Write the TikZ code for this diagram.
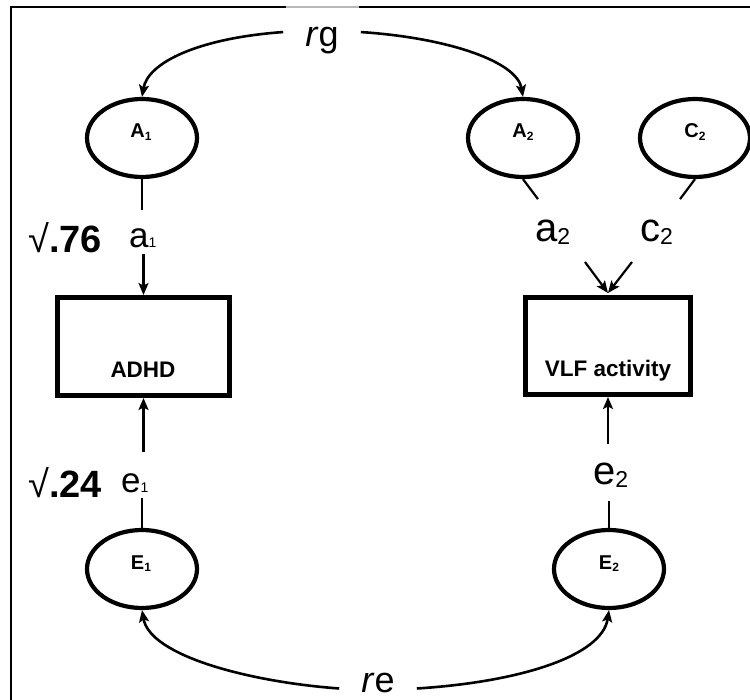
\documentclass[tikz,border=0pt]{standalone}
\usepackage{fontspec}
\setmainfont{Liberation Sans}
\usetikzlibrary{arrows.meta,shapes.geometric}
\newcommand\fsz[1]{\fontsize{#1}{#1}\selectfont}
\begin{document}
\begin{tikzpicture}[x=1pt,y=-1pt,
  latent/.style={ellipse,draw,line width=4.2pt,minimum width=110pt,minimum height=78pt,inner sep=0pt},
  observed/.style={rectangle,draw,line width=5pt,inner sep=0pt},
  conn/.style={line width=2.2pt},
  arr/.style={conn,-{Stealth[length=12pt,width=10pt,inset=2.5pt]}},
  corr/.style={line width=2.6pt,-{Stealth[length=12pt,width=10pt,inset=2.5pt]}},
  varlab/.style={font=\bfseries\fsz{20},anchor=base,inner sep=0pt},
  boxlab/.style={font=\bfseries\fsz{22.5},anchor=base,inner sep=0pt},
  pathlab/.style={font=\fsz{40},anchor=base west,inner sep=0pt},
  coef/.style={font=\bfseries\fsz{38},anchor=base west,inner sep=0pt},
  corrlab/.style={font=\fsz{36},anchor=base,inner ysep=0pt,inner xsep=22pt}]
\useasboundingbox (0,0) rectangle (750,700);

% frame (left and top edges only)
\draw[line width=1.6pt] (11,700) -- (11,7) -- (286,7);
\draw[line width=1.6pt,gray!55] (286,7) -- (359,7);
\draw[line width=1.6pt] (359,7) -- (750,7);

% latent factors
\node[latent] (A1) at (142,138) {};
\node[latent] (A2) at (523,138) {};
\node[latent] (C2) at (695,138) {};
\node[latent] (E1) at (142,569) {};
\node[latent] (E2) at (609,569) {};
\node[varlab] (A1t) at (141,138) {A\raisebox{-2.5pt}{\fsz{12}1}};
\node[varlab] (A2t) at (523,138) {A\raisebox{-2.5pt}{\fsz{12}2}};
\node[varlab] (C2t) at (695,138) {C\raisebox{-2.5pt}{\fsz{12}2}};
\node[varlab] (E1t) at (141,569) {E\raisebox{-2.5pt}{\fsz{12}1}};
\node[varlab] (E2t) at (609,569) {E\raisebox{-2.5pt}{\fsz{12}2}};

% observed measures
\node[observed,minimum width=172pt,minimum height=98pt] (ADHD) at (143.5,346.5) {};
\node[observed,minimum width=165pt,minimum height=97pt] (VLF) at (608,346) {};
\node[boxlab] (ADHDt) at (143,378) {ADHD};
\node[boxlab] (VLFt) at (608,377) {VLF activity};

% path labels
\node[coef] (s76) at (28,253) {{\mdseries √}.76};
\node[coef] (s24) at (28,497) {{\mdseries √}.24};
\node[pathlab,font=\fsz{35}] (a1) at (129,248) {a{\fsz{14}1}};
\node[pathlab,font=\fsz{35}] (e1) at (121,493) {e{\fsz{14}1}};
\node[pathlab] (a2) at (535,242) {a\raisebox{-3pt}{\fsz{23}2}};
\node[pathlab] (c2) at (640,242) {c\raisebox{-3pt}{\fsz{23}2}};
\node[pathlab] (e2) at (593,485) {e\raisebox{-3pt}{\fsz{23}2}};

% paths into ADHD
\draw[conn] (A1.south) -- ++(0,31);
\draw[arr] (ADHD.north) ++(0,-41) -- (ADHD.north);
\draw[conn] (E1.north) -- ++(0,-30);
\draw[arr] (ADHD.south) ++(0,54) -- (ADHD.south);

% paths into VLF activity
\draw[conn] (A2.south) -- ++(15,20);
\draw[conn] (C2.south) -- ++(-15,20);
\draw[arr] (VLF.north) ++(-23,-33) -- ([yshift=2pt]VLF.north);
\draw[arr] (VLF.north) ++(24,-33) -- ([yshift=2pt]VLF.north);
\draw[conn] (E2.north) -- ++(0,-27);
\draw[arr] (VLF.south) ++(0,47) -- (VLF.south);

% genetic and environmental correlations
\node[corrlab] (rg) at (322,47) {\textit{r}g};
\node[corrlab] (re) at (378,692) {\textit{r}e};
\draw[corr] ([yshift=9pt]rg.west) .. controls (200,38) and (148,62) .. (A1.north);
\draw[corr] ([yshift=9pt]rg.east) .. controls (450,38) and (517,62) .. (A2.north);
\draw[corr] ([yshift=-6pt]re.west) .. controls (250,682) and (150,656) .. (E1.south);
\draw[corr] ([yshift=-6pt]re.east) .. controls (520,682) and (602,656) .. (E2.south);
\end{tikzpicture}
\end{document}
